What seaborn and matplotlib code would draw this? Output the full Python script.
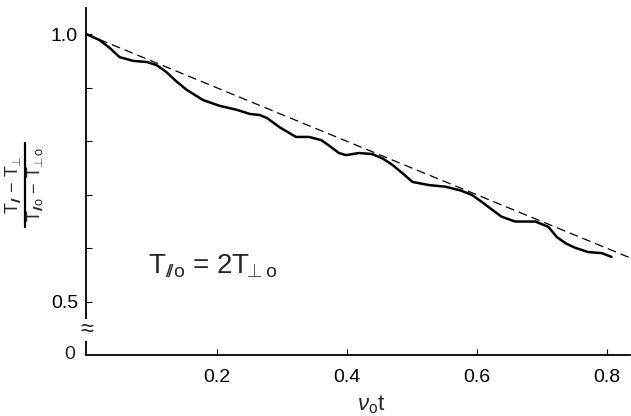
import numpy as np
import pandas as pd
import seaborn as sns
import matplotlib.pyplot as plt
from matplotlib.lines import Line2D

nu_t = [0.0, 0.02, 0.036, 0.051, 0.072, 0.093, 0.108, 0.123, 0.138, 0.154, 0.179, 0.205,
        0.230, 0.251, 0.266, 0.278, 0.297, 0.322, 0.342, 0.361, 0.375, 0.388, 0.399, 0.419,
        0.439, 0.455, 0.470, 0.486, 0.501, 0.527, 0.552, 0.575, 0.592, 0.605, 0.618, 0.638,
        0.659, 0.690, 0.710, 0.723, 0.737, 0.751, 0.771, 0.792, 0.807]
ratio = [1.0, 0.989, 0.974, 0.957, 0.950, 0.948, 0.942, 0.929, 0.912, 0.896, 0.877, 0.866,
         0.859, 0.851, 0.849, 0.843, 0.826, 0.808, 0.808, 0.802, 0.790, 0.778, 0.774, 0.778,
         0.776, 0.768, 0.756, 0.740, 0.724, 0.718, 0.715, 0.708, 0.700, 0.689, 0.677, 0.659,
         0.650, 0.650, 0.640, 0.621, 0.609, 0.601, 0.593, 0.591, 0.584]

# dashed reference line
fit_x = [0.0, 0.835]
fit_y = [1.0, 0.5825]

sns.set_style('ticks')
plt.rcParams['font.family'] = ['Liberation Sans', 'DejaVu Sans']
plt.rcParams['mathtext.fontset'] = 'custom'
plt.rcParams['mathtext.rm'] = 'Liberation Sans'
plt.rcParams['mathtext.it'] = 'Liberation Sans:italic'

fig = plt.figure(figsize=(6.31, 4.16), dpi=100)
ax = fig.add_axes([0.137, 0.147, 0.861, 0.834])

df = pd.DataFrame({'x': nu_t, 'y': ratio})
sns.lineplot(data=df, x='x', y='y', ax=ax, color='black', lw=1.8, sort=False)
sns.lineplot(x=fit_x, y=fit_y, ax=ax, color='black', lw=0.9, dashes=False,
             linestyle=(0, (7, 4)))

ax.set_xlim(0, 0.835)
ax.set_ylim(0.401, 1.049)
sns.despine(ax=ax)
for s in ['left', 'bottom']:
    ax.spines[s].set_linewidth(1.3)
    ax.spines[s].set_color('black')

ax.set_xticks([0.2, 0.4, 0.6, 0.8])
ax.set_xticklabels(['0.2', '0.4', '0.6', '0.8'])
ax.set_yticks([0.5, 0.6, 0.7, 0.8, 0.9, 1.0])
ax.set_yticklabels(['0.5', '', '', '', '', '1.0'])
ax.tick_params(direction='in', length=4, width=0.8, labelsize=14, colors='black')
ax.tick_params(axis='x', pad=10)
ax.tick_params(axis='y', pad=6)

# axis break and zero label
ax.text(0, 0.447, '≈', transform=ax.get_yaxis_transform(), ha='center', va='center',
        fontsize=17, bbox=dict(facecolor='white', edgecolor='none', pad=0))
ax.text(-0.02, 0.0, '0', transform=ax.transAxes, ha='right', va='center', fontsize=14)

ax.set_xlabel(r'$\nu_{\mathrm{o}}\mathrm{t}$', fontsize=16)
ax.xaxis.set_label_coords(0.525, -0.112)
ax.set_ylabel('')

# y label as a stacked fraction
fig.text(0.021, 0.555, r'T$_{/\!/}$ $-$ T$_{\!\!\bot}$', rotation=90, fontsize=13,
         ha='center', va='center')
fig.text(0.056, 0.555, r'T$_{/\!/\mathrm{o}}$ $-$ T$_{\!\!\bot\mathrm{o}}$', rotation=90, fontsize=13,
         ha='center', va='center')
fig.add_artist(Line2D([0.0396, 0.0396], [0.454, 0.656], color='black', lw=1.6,
                      transform=fig.transFigure))

ax.text(0.113, 0.254, r'T$_{/\!/\mathrm{o}}$ = 2T$_{\!\!\bot\mathrm{o}}$', fontsize=20,
        va='center', transform=ax.transAxes)

fig.savefig('out.png', dpi=100)
